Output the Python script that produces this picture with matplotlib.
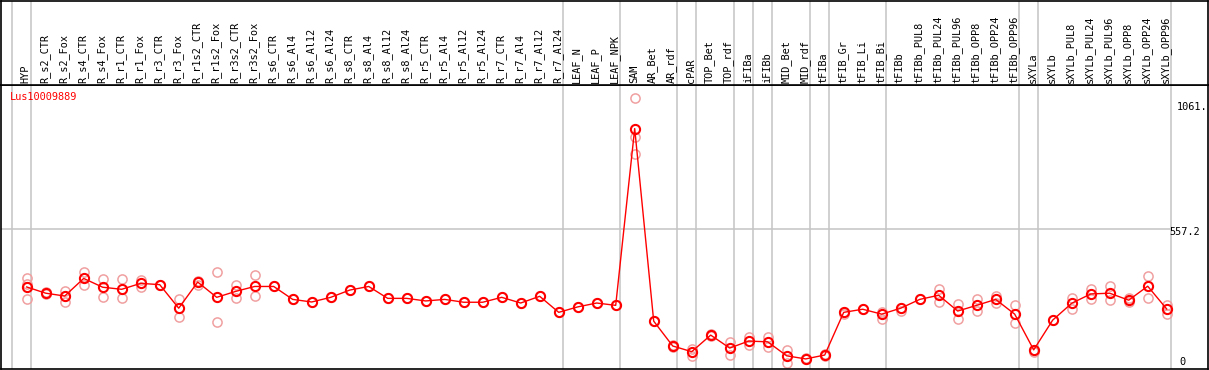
import matplotlib
matplotlib.use("Agg")
import matplotlib.pyplot as plt

categories = ["HYP", "R_s2_CTR", "R_s2_Fox", "R_s4_CTR", "R_s4_Fox", "R_r1_CTR", "R_r1_Fox",
              "R_r3_CTR", "R_r3_Fox", "R_r1s2_CTR", "R_r1s2_Fox", "R_r3s2_CTR", "R_r3s2_Fox",
              "R_s6_CTR", "R_s6_Al4", "R_s6_Al12", "R_s6_Al24", "R_s8_CTR", "R_s8_Al4",
              "R_s8_Al12", "R_s8_Al24", "R_r5_CTR", "R_r5_Al4", "R_r5_Al12", "R_r5_Al24",
              "R_r7_CTR", "R_r7_Al4", "R_r7_Al12", "R_r7_Al24", "LEAF_N", "LEAF_P", "LEAF_NPK",
              "SAM", "AR_Bet", "AR_rdf", "cPAR", "TOP_Bet", "TOP_rdf", "iFIBa", "iFIBb",
              "MID_Bet", "MID_rdf", "tFIBa", "tFIB_Gr", "tFIB_Li", "tFIB_Bi", "tFIBb",
              "tFIBb_PUL8", "tFIBb_PUL24", "tFIBb_PUL96", "tFIBb_OPP8", "tFIBb_OPP24",
              "tFIBb_OPP96", "sXYLa", "sXYLb", "sXYLb_PUL8", "sXYLb_PUL24", "sXYLb_PUL96",
              "sXYLb_OPP8", "sXYLb_OPP24", "sXYLb_OPP96"]

means = [332, 308, 297, 365, 331, 323, 346, 341, 250, 351,
         292, 315, 334, 334, 284, 274, 292, 320, 334, 288,
         288, 278, 284, 273, 273, 292, 270, 296, 234, 255,
         270, 261, 944, 200, 104, 82, 146, 96, 123, 120,
         66, 54, 69, 234, 246, 227, 250, 284, 300, 239,
         261, 284, 227, 89, 204, 269, 305, 308, 281, 335, 247]

replicates = [[365, 284, 345], [313, 305], [318, 275, 299], [388, 341], [364, 292],
              [363, 288], [358, 333], [341, 339], [284, 215], [356, 341],
              [388, 196], [339, 289], [377, 296], [334], [284], [274], [292], [320], [334], [288],
              [288], [278], [284], [273], [273], [292], [270], [296], [234], [255],
              [270], [261], [1061, 911, 845], [200], [106, 101], [92, 66], [149, 143], [119, 68],
              [140, 107], [138, 101], [89, 37], [56, 52], [72, 67], [236, 229], [247],
              [235, 208], [252, 241], [285], [323, 275], [265, 209], [284, 239], [297, 269],
              [261, 192], [89, 81], [204], [291, 247], [326, 284], [335, 281], [291, 275],
              [375, 291], [262, 227]]

# last category (1-based) of each group; 0 = before first
group_ends = [0, 1, 29, 32, 35, 36, 38, 39, 40, 42, 43, 46, 53, 54, 61]

gene = "Lus10009889"
ytick_labels = ["1061.", "557.2", "0"]
grid_value = 557.2

W, H = 1209, 370
fig = plt.figure(figsize=(W / 100, H / 100), dpi=100)

x0px, dx = 26.7, 19.0
left_px, right_px = 1, 1208
xlim = ((left_px - x0px) / dx, (right_px - x0px) / dx)

header_px = 85
bottom_px = 369
ax = fig.add_axes([left_px / W, (H - bottom_px) / H, (right_px - left_px) / W,
                   (bottom_px - header_px) / H])
hx = fig.add_axes([left_px / W, (H - header_px) / H, (right_px - left_px) / W,
                   (header_px - 0.5) / H])

zero_px, scale = 372.9, 0.2588
ylim = ((zero_px - bottom_px) / scale, (zero_px - header_px) / scale)

for a in (ax, hx):
    a.set_xlim(*xlim)
    a.set_xticks([])
    a.set_yticks([])
    for s in a.spines.values():
        s.set_color("black")
        s.set_linewidth(1.2)
ax.set_ylim(*ylim)
hx.set_ylim(0, header_px)

grid_c = "#c4c4c4"
seps = [g - 1 + 0.2 for g in group_ends]
for s in seps:
    ax.axvline(s, color=grid_c, lw=1.1, zorder=1)
    hx.axvline(s, color=grid_c, lw=1.1, zorder=1)
ax.hlines(grid_value, xlim[0], seps[-1], color=grid_c, lw=1.1, zorder=1)

mono = "DejaVu Sans Mono"
for i, c in enumerate(categories):
    hx.text(i - 0.05, 2, c, rotation=90, ha="center", va="bottom", fontsize=7.4,
            family=mono, color="black")

xs = list(range(len(categories)))
for i, reps in enumerate(replicates):
    ax.plot([i] * len(reps), reps, linestyle="none", marker="o", markersize=6.6,
            markerfacecolor="none", markeredgecolor="#f0a0a0", markeredgewidth=1.1, zorder=2)
ax.plot(xs, means, color="#ff0000", lw=1.0, zorder=3)
ax.plot(xs, means, linestyle="none", marker="o", markersize=6.6, markerfacecolor="none",
        markeredgecolor="#ff0000", markeredgewidth=1.5, zorder=4)

ax.text((10 - x0px) / dx, (zero_px - 97) / scale, gene, color="#ff0000", fontsize=7.4,
        family=mono, ha="left", va="center")

ax.text((1177 - x0px) / dx, (zero_px - 107) / scale, ytick_labels[0], fontsize=7.4,
        family=mono, ha="left", va="center")
ax.text((1169 - x0px) / dx, (zero_px - 232) / scale, ytick_labels[1], fontsize=7.4,
        family=mono, ha="left", va="center")
ax.text((1179 - x0px) / dx, (zero_px - 362) / scale, ytick_labels[2], fontsize=7.4,
        family=mono, ha="left", va="center")

fig.savefig("out.png", dpi=100)
